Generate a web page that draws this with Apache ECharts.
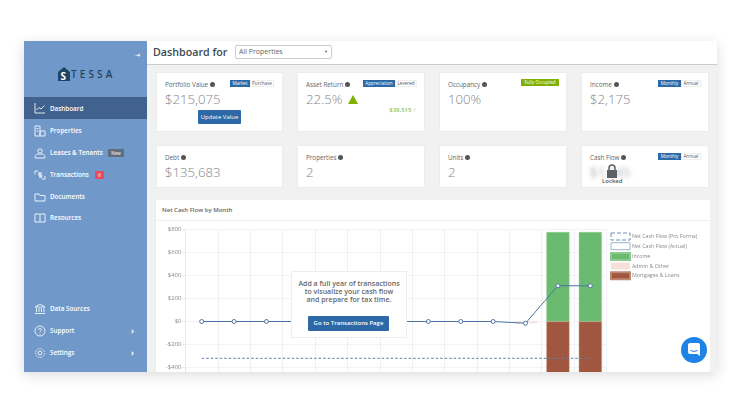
<!DOCTYPE html>
<html>
<head>
<meta charset="utf-8">
<script src="https://cdn.jsdelivr.net/npm/echarts@6/dist/echarts.min.js"></script>
<style>
html,body{margin:0;padding:0;width:740px;height:412px;background:#fff;overflow:hidden;font-family:"Open Sans",sans-serif;}
div{box-sizing:border-box;}
.abs,.card,.side,.row,.tag,.btn{position:absolute;}
#panel{position:absolute;left:24px;top:41px;width:693px;height:331px;background:#f1f1f1;box-shadow:0 3px 12px rgba(0,0,0,.14);}
.side{left:24px;top:41px;width:123px;height:331px;background:#7099c9;}
.row{left:24px;width:123px;height:22px;line-height:22px;color:#fff;font-size:6.3px;font-weight:600;padding-left:26px;}
.row svg{position:absolute;left:10px;top:5px;width:12px;height:12px;fill:none;stroke:#fff;stroke-width:1;opacity:.85;}
.row.on{background:#41628e;line-height:23px;}
.row .arrow{position:absolute;left:107px;top:0;font-weight:700;font-size:8px;}
.card{background:#fff;border:1px solid #ececec;}
.lbl{position:absolute;left:8px;top:7px;font-size:6.3px;color:#666;white-space:nowrap;}
.lbl i{display:inline-block;width:5px;height:5px;border-radius:50%;background:#555;margin-left:2px;}
.val{position:absolute;left:8px;top:17px;font-size:13.2px;font-weight:300;color:#7f858b;white-space:nowrap;}
.tag{top:7px;height:7px;line-height:7px;font-size:4.6px;text-align:center;}
.tag.a{background:#2d69a6;color:#fff;}
.tag.b{background:#fff;color:#555;border:1px solid #eee;line-height:5px;}
.btn{background:#2d69a6;color:#fff;text-align:center;border-radius:1px;}
</style>
</head>
<body>
<div id="panel"></div>

<!-- sidebar -->
<div class="side"></div>
<div class="abs" style="left:135px;top:51px;color:#fff;font-size:6px;">⇥</div>
<svg class="abs" style="left:58px;top:67px;" width="12" height="14" viewBox="0 0 12 14"><path d="M0 5 L6 0 L12 5 V14 H0 Z" fill="#1f4565"/></svg>
<div class="abs" style="left:60.5px;top:68.5px;font-size:10px;font-weight:700;color:#fff;">S</div>
<div class="abs" style="left:71px;top:67px;font-size:10px;font-weight:600;color:#1f4565;letter-spacing:3.100px;">TESSA</div>
<div class="row on" style="top:97px;">Dashboard<svg viewBox="0 0 12 12"><path d="M1 1V11H11M2.5 8L5 5.5L7 7L10.500 3.500"/></svg></div>
<div class="row" style="top:120px;">Properties<svg viewBox="0 0 12 12"><path d="M1 1H6V11H1ZM6 6H11V11H6ZM2.500 3.500H4.500M2.500 6H4.500"/></svg></div>
<div class="row" style="top:142px;">Leases &amp; Tenants<svg viewBox="0 0 12 12"><circle cx="6" cy="4" r="2.200"/><path d="M1 11C1 7 3 7 6 7S11 7 11 11Z"/></svg></div>
<div class="abs" style="left:108px;top:148.500px;width:16px;height:8px;line-height:8px;background:#5f6d80;color:#fff;font-size:4.500px;text-align:center;">New</div>
<div class="row" style="top:164px;">Transactions<svg viewBox="0 0 12 12"><path d="M1 5V2H4M11 7V10H8"/><path d="M7.500 4H5V6H7.500V8H5" stroke-width="1.300"/></svg></div>
<div class="abs" style="left:95px;top:170.500px;width:9px;height:8px;line-height:8px;background:#ea4c5f;color:#fff;font-size:4.500px;text-align:center;">6</div>
<div class="row" style="top:186px;">Documents<svg viewBox="0 0 12 12"><path d="M1 3H5L6 4.500H11V10H1Z"/></svg></div>
<div class="row" style="top:207px;">Resources<svg viewBox="0 0 12 12"><path d="M1 2H11V10H1ZM6 2V10"/></svg></div>
<div class="row" style="top:298px;">Data Sources<svg viewBox="0 0 12 12"><path d="M1 4L6 1L11 4ZM2.500 5V9M5 5V9M7.500 5V9M10 5V9M1 10.500H11"/></svg></div>
<div class="row" style="top:320px;">Support<svg viewBox="0 0 12 12"><circle cx="6" cy="6" r="5"/><path d="M4.500 4.800C4.500 3 7.500 3 7.500 4.800C7.500 6 6 6 6 7.200M6 8.500V9.300"/></svg><span class="arrow">›</span></div>
<div class="row" style="top:342px;">Settings<svg viewBox="0 0 12 12"><circle cx="6" cy="6" r="2"/><circle cx="6" cy="6" r="4.500" stroke-dasharray="1.500 1"/></svg><span class="arrow">›</span></div>

<!-- header -->
<div class="abs" style="left:147px;top:41px;width:570px;height:24px;background:#fff;border-bottom:1px solid #ccc;"></div>
<div class="abs" style="left:153px;top:45px;font-size:10.700px;font-weight:600;color:#3d4852;">Dashboard for</div>
<div class="abs" style="left:235px;top:45px;width:97px;height:14px;border:1px solid #ccc;border-radius:2px;background:#fff;font-size:7px;line-height:12px;padding-left:3px;color:#666;">All Properties<span style="position:absolute;right:3px;top:0;font-size:4px;">▼</span></div>

<!-- kpi cards -->
<div class="card" style="left:156px;top:72px;width:127px;height:60px;">
  <div class="lbl">Portfolio Value<i></i></div><div class="val">$215,075</div>
  <div class="tag a" style="left:73px;width:20px;">Market</div><div class="tag b" style="left:93px;width:24px;">Purchase</div>
  <div class="btn" style="left:41px;top:37px;width:43px;height:14px;line-height:14px;font-size:6px;">Update Value</div>
</div>
<div class="card" style="left:297px;top:72px;width:128px;height:60px;">
  <div class="lbl">Asset Return<i></i></div><div class="val">22.5%</div>
  <svg class="abs" style="left:50px;top:22px;" width="10" height="9"><path d="M5 0L10 9H0Z" fill="#7fb000"/></svg>
  <div class="tag a" style="left:65px;width:32px;">Appreciation</div><div class="tag b" style="left:97px;width:22px;">Levered</div>
  <div class="abs" style="right:8px;top:33px;font-size:6px;font-weight:600;color:#8cc152;">$39,515 ↑</div>
</div>
<div class="card" style="left:439px;top:72px;width:128px;height:60px;">
  <div class="lbl">Occupancy<i></i></div><div class="val">100%</div>
  <div class="tag" style="left:81px;top:6px;width:38px;background:#7fb000;color:#fff;">Fully Occupied</div>
</div>
<div class="card" style="left:581px;top:72px;width:128px;height:60px;">
  <div class="lbl">Income<i></i></div><div class="val">$2,175</div>
  <div class="tag a" style="left:76px;width:23px;">Monthly</div><div class="tag b" style="left:99px;width:20px;">Annual</div>
</div>
<div class="card" style="left:156px;top:145px;width:127px;height:43px;">
  <div class="lbl">Debt<i></i></div><div class="val">$135,683</div>
</div>
<div class="card" style="left:297px;top:145px;width:128px;height:43px;">
  <div class="lbl">Properties<i></i></div><div class="val">2</div>
</div>
<div class="card" style="left:439px;top:145px;width:128px;height:43px;">
  <div class="lbl">Units<i></i></div><div class="val">2</div>
</div>
<div class="card" style="left:581px;top:145px;width:128px;height:43px;">
  <div class="lbl">Cash Flow<i></i></div>
  <div class="val" style="filter:blur(2px);">$1,545</div>
  <div class="tag a" style="left:76px;width:23px;">Monthly</div><div class="tag b" style="left:99px;width:20px;">Annual</div>
  <svg class="abs" style="left:24px;top:18px;" width="12" height="14"><path d="M3 6V4A3 3 0 0 1 9 4V6" fill="none" stroke="#5d6166" stroke-width="1.500"/><rect x="1" y="6" width="10" height="8" fill="#5d6166"/></svg>
  <div class="abs" style="left:20px;top:31px;font-size:6px;font-weight:600;color:#555;">Locked</div>
</div>

<!-- chart card -->
<div class="abs" style="left:155px;top:200px;width:555px;height:172px;background:#fff;border-left:1px solid #ececec;"></div>
<div class="abs" style="left:162px;top:206px;font-size:6px;font-weight:600;color:#666;">Net Cash Flow by Month</div>
<div class="abs" style="left:156px;top:220px;width:554px;height:1px;background:#f0f0f0;"></div>
<div class="abs" style="left:156px;top:221px;width:554px;height:151px;overflow:hidden;">
  <div id="cash_flow" style="width:554px;height:240px;"></div>
</div>

<!-- overlay on the chart -->
<div class="abs" style="left:291px;top:271px;width:116px;height:67px;background:#fff;border:1px solid #eee;"></div>
<div class="abs" style="left:291px;top:280px;width:116px;text-align:center;font-size:7px;line-height:8px;font-weight:600;color:#666;">Add a full year of transactions<br>to visualize your cash flow<br>and prepare for tax time.</div>
<div class="btn" style="left:308px;top:316px;width:81px;height:15px;line-height:15px;font-size:6px;font-weight:600;">Go to Transactions Page</div>

<!-- chat button -->
<div class="abs" style="left:681px;top:337px;width:26px;height:26px;border-radius:50%;background:#1e82e6;"></div>
<svg class="abs" style="left:688px;top:343px;" width="12" height="13"><path d="M2 0H10Q12 0 12 2V13L9 11H2Q0 11 0 9V2Q0 0 2 0Z" fill="#fff"/><path d="M2.500 7.500Q6 9.500 9.500 7.500" fill="none" stroke="#1e82e6"/></svg>

<script type="text/javascript">
var months=['Jan','Feb','Mar','Apr','May','Jun','Jul','Aug','Sep','Oct','Nov','Dec','Jan '];
var pro_forma=[-320,-320,-320,-320,-320,-320,-320,-320,-320,-320,-320,-320,-320];
var actual=[0,0,0,0,0,0,0,0,0,0,-15,311,311];
var income=[null,null,null,null,null,null,null,null,null,null,null,778,778];
var admin=[null,null,null,null,null,null,null,null,null,null,-15,null,null];
var mortgages=[null,null,null,null,null,null,null,null,null,null,null,-790,-790];

var cash_flow=echarts.init(document.getElementById('cash_flow'));
var option={
	animation:false,
	textStyle:{fontFamily:'Open Sans'},
	grid:{left:29.5,top:8.5,width:421,height:184},
	legend:{
		orient:'vertical',left:454,top:11.5,padding:0,
		itemWidth:19,itemHeight:7,itemGap:1.7,
		textStyle:{fontSize:5.3,lineHeight:7,color:'#888',padding:[0,0,0,-3]},
		data:[
			{name:'Net Cash Flow (Pro Forma)',icon:'rect',itemStyle:{color:'#fff',borderColor:'#6f8fb5',borderWidth:1,borderType:'dashed'}},
			{name:'Net Cash Flow (Actual)',icon:'rect',itemStyle:{color:'#fff',borderColor:'#9db6cf',borderWidth:1}},
			{name:'Income',icon:'rect'},
			{name:'Admin & Other',icon:'rect'},
			{name:'Mortgages & Loans',icon:'rect'}
		]
	},
	xAxis:{
		type:'category',data:months,
		axisLine:{show:false},axisTick:{show:false},axisLabel:{show:false},
		splitLine:{show:true,lineStyle:{color:'#f0f0f0'}}
	},
	yAxis:{
		type:'value',min:-800,max:800,interval:200,
		axisLine:{show:true,lineStyle:{color:'#e6e6e6'}},
		axisTick:{show:true,length:3,lineStyle:{color:'#e6e6e6'}},
		axisLabel:{fontSize:6,color:'#888',margin:4,formatter:function(v){return v<0?'-$'+(-v):'$'+v;}},
		splitLine:{lineStyle:{color:'#f3f3f3'}}
	},
	series:[
		{name:'Income',type:'bar',stack:'cash',barWidth:23,data:income,itemStyle:{color:'#6aba6f',borderColor:'#8ccb8f',borderWidth:.5}},
		{name:'Admin & Other',type:'bar',stack:'cash',barWidth:23,data:admin,itemStyle:{color:'#f5e0da'}},
		{name:'Mortgages & Loans',type:'bar',stack:'cash',barWidth:23,data:mortgages,itemStyle:{color:'#a0563f',borderColor:'#bd8673',borderWidth:.5}},
		{name:'Net Cash Flow (Pro Forma)',type:'line',data:pro_forma,symbol:'none',z:5,lineStyle:{color:'#5b82ae',width:1,type:[2.5,2]}},
		{name:'Net Cash Flow (Actual)',type:'line',data:actual,symbol:'circle',symbolSize:4,z:6,lineStyle:{color:'#4a74a8',width:1},itemStyle:{color:'#fff',borderColor:'#4a74a8',borderWidth:1}}
	]
};
cash_flow.setOption(option);
</script>
</body>
</html>
